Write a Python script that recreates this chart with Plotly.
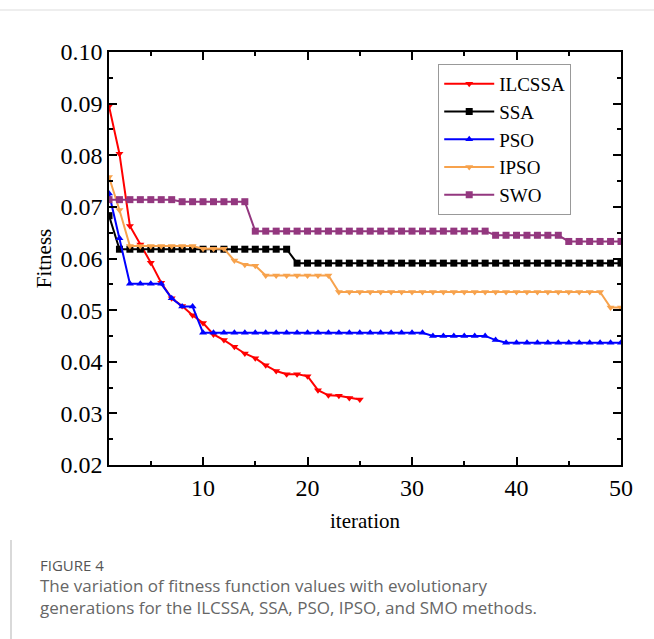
import plotly.graph_objects as go

iterations = list(range(1, 51))

ilcssa = [0.0895, 0.0803, 0.0663, 0.0627, 0.0592, 0.0553, 0.0523, 0.0508, 0.0490, 0.0475,
          0.0453, 0.0442, 0.0429, 0.0416, 0.0407, 0.0393, 0.0382, 0.0376, 0.0376, 0.0372,
          0.0345, 0.0335, 0.0334, 0.0330, 0.0327]
ssa = [0.0683] + [0.0618] * 17 + [0.0591] * 32
pso = ([0.0726, 0.0639] + [0.0551] * 4 + [0.0523, 0.0507, 0.0507] + [0.0456] * 22
       + [0.0450] * 6 + [0.0442] + [0.0437] * 12)
ipso = ([0.0758, 0.0694] + [0.0624] * 7 + [0.0619] * 3 + [0.0596, 0.0588, 0.0586]
        + [0.0567] * 7 + [0.0535] * 26 + [0.0505] * 2)
swo = [0.0714] * 7 + [0.0710] * 7 + [0.0653] * 23 + [0.0645] * 7 + [0.0633] * 6

series = [
    ("ILCSSA", ilcssa, "#FF0000", "triangle-down"),
    ("SSA", ssa, "#000000", "square"),
    ("PSO", pso, "#0000FF", "triangle-up"),
    ("IPSO", ipso, "#F7A24C", "triangle-down"),
    ("SWO", swo, "#93377F", "square"),
]

serif = "Liberation Serif"
tick_font = dict(family=serif, size=24, color="black")
title_font = dict(family=serif, size=21, color="black")

fig = go.Figure()
for name, vals, color, sym in series:
    fig.add_trace(go.Scatter(
        x=iterations[:len(vals)], y=vals, name=name, mode="lines+markers",
        line=dict(color=color, width=2),
        marker=dict(symbol=sym, size=7, color=color),
    ))

fig.update_xaxes(
    range=[1, 50], tick0=0, dtick=10,
    showline=True, linecolor="black", linewidth=1.5, mirror="allticks",
    ticks="inside", ticklen=8, tickwidth=1.5, tickcolor="black",
    showgrid=False, zeroline=False, tickfont=tick_font,
    minor=dict(ticks="inside", ticklen=4, tickcolor="black", dtick=5, tick0=0, showgrid=False),
    title=dict(text="iteration", font=title_font, standoff=14),
)
fig.update_yaxes(
    range=[0.02, 0.10], tick0=0.02, dtick=0.01, tickformat=".2f",
    showline=True, linecolor="black", linewidth=1.5, mirror="allticks",
    ticks="inside", ticklen=8, tickwidth=1.5, tickcolor="black",
    showgrid=False, zeroline=False, tickfont=tick_font,
    minor=dict(ticks="inside", ticklen=4, tickcolor="black", dtick=0.005, tick0=0.02, showgrid=False),
    title=dict(text="Fitness", font=title_font, standoff=3),
)

fig.update_layout(
    width=654, height=639,
    margin=dict(l=109, r=33, t=52, b=174),
    paper_bgcolor="white", plot_bgcolor="white",
    font=dict(family=serif, size=20, color="black"),
    legend=dict(
        x=0.643, y=0.971, xanchor="left", yanchor="top",
        bgcolor="white", bordercolor="#999999", borderwidth=1,
        font=dict(family=serif, size=19, color="black"),
        itemwidth=50, tracegroupgap=0,
    ),
    showlegend=True,
)

# figure frame lines (caption panel)
fig.add_shape(type="line", xref="paper", yref="paper",
              x0=-109/512, x1=(654-109)/512, y0=(639-10-174)/413, y1=(639-10-174)/413,
              line=dict(color="#DDDDDD", width=1))
fig.add_shape(type="line", xref="paper", yref="paper",
              x0=-98/512, x1=-98/512, y0=-174/413, y1=-(540-465)/413,
              line=dict(color="#CCCCCC", width=1.5))

fig.add_annotation(
    xref="paper", yref="paper", x=-71/512, y=-(565-465)/413,
    xanchor="left", yanchor="middle", showarrow=False,
    text="FIGURE 4", font=dict(family="Open Sans, sans-serif", size=15, color="#555555"),
)
fig.add_annotation(
    xref="paper", yref="paper", x=-71/512, y=-(596-465)/413,
    xanchor="left", yanchor="middle", showarrow=False, align="left",
    text="The variation of fitness function values with evolutionary<br>"
         "generations for the ILCSSA, SSA, PSO, IPSO, and SMO methods.",
    font=dict(family="Open Sans, sans-serif", size=17, color="#666666"),
)

fig.write_html("out.html")
